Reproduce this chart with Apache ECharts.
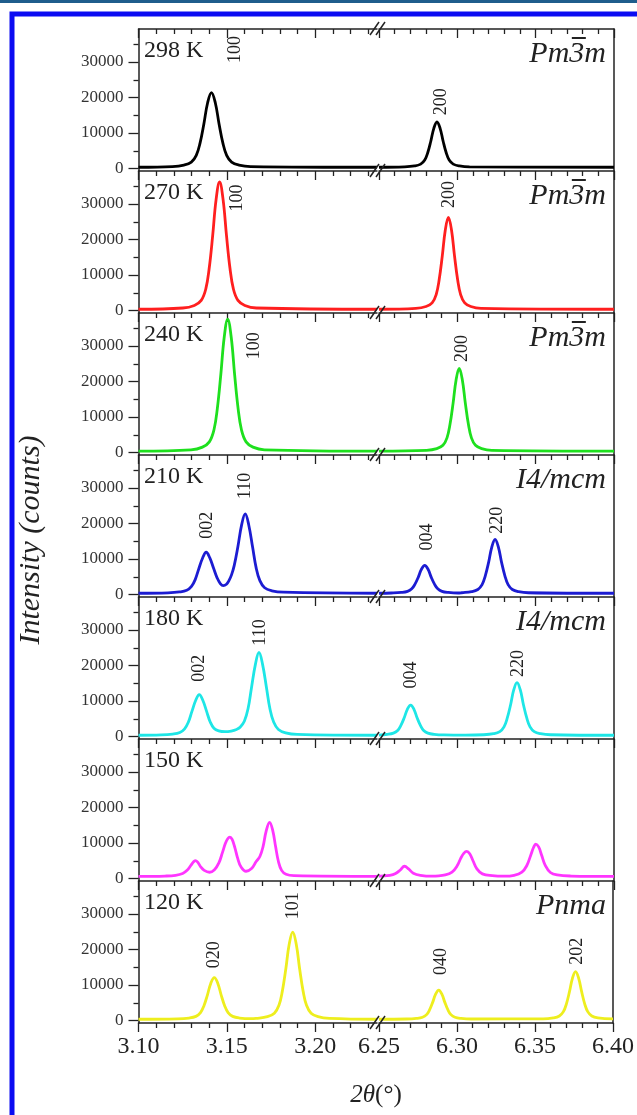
<!DOCTYPE html>
<html>
<head>
<meta charset="utf-8">
<script src="https://cdn.jsdelivr.net/npm/echarts@6/dist/echarts.min.js"></script>
</head>
<body style="margin:0;background:#fff;">
<div id="main" style="width:637px;height:1115px;"></div>
<script type="text/javascript">
// panel texts (top to bottom)
var temps = ['298 K', '270 K', '240 K', '210 K', '180 K', '150 K', '120 K'];
var phases = ['Pm3m', 'Pm3m', 'Pm3m', 'I4/mcm', 'I4/mcm', '', 'Pnma'];
var colors = ['#000000', '#ff1f1f', '#1ee01e', '#1c1cd2', '#1ee6e6', '#ff35ff', '#eeee1e'];

// axis ticks
var xMajorL = [3.10, 3.15, 3.20];
var xMinorL = [3.11, 3.12, 3.13, 3.14, 3.16, 3.17, 3.18, 3.19, 3.21, 3.22, 3.23];
var xMajorR = [6.25, 6.30, 6.35, 6.40];
var xMinorR = [6.26, 6.27, 6.28, 6.29, 6.31, 6.32, 6.33, 6.34, 6.36, 6.37, 6.38, 6.39];
var yMajor = [0, 10000, 20000, 30000];
var yMinor = [5000, 15000, 25000, 35000];

// 2theta / counts (left part 3.10-3.235, right part 6.25-6.40)
var p298L = [[3.100,350],[3.1192,560],[3.1257,980],[3.1299,1820],[3.1327,3720],[3.1348,7090],[3.1370,12560],[3.1391,18450],[3.1413,21400],[3.1435,18450],[3.1456,12560],[3.1478,7090],[3.1499,3720],[3.1527,1820],[3.1569,980],[3.1634,560],[3.2350,350]];
var p298R = [[6.250,350],[6.2662,480],[6.2727,730],[6.2766,1240],[6.2792,2390],[6.2811,4430],[6.2831,7750],[6.2850,11320],[6.2870,13100],[6.2890,11320],[6.2909,7750],[6.2929,4430],[6.2948,2390],[6.2974,1240],[6.3013,730],[6.3078,480],[6.4000,350]];

var p270L = [[3.100,350],[3.1251,710],[3.1316,1430],[3.1355,2860],[3.1381,6090],[3.1400,11820],[3.1420,21140],[3.1439,31180],[3.1459,36200],[3.1479,31180],[3.1498,21140],[3.1518,11820],[3.1537,6090],[3.1563,2860],[3.1602,1430],[3.1667,710],[3.2350,350]];
var p270R = [[6.250,350],[6.2735,610],[6.2800,1130],[6.2839,2160],[6.2865,4490],[6.2884,8640],[6.2904,15370],[6.2923,22620],[6.2943,26250],[6.2963,22620],[6.2982,15370],[6.3002,8640],[6.3021,4490],[6.3047,2160],[6.3086,1130],[6.3151,610],[6.4000,350]];

var p240L = [[3.100,400],[3.1297,770],[3.1362,1520],[3.1401,3000],[3.1427,6350],[3.1446,12300],[3.1466,21980],[3.1485,32390],[3.1505,37600],[3.1525,32390],[3.1544,21980],[3.1564,12300],[3.1583,6350],[3.1609,3000],[3.1648,1520],[3.1713,770],[3.2350,400]];
var p240R = [[6.250,400],[6.2804,630],[6.2869,1100],[6.2908,2030],[6.2934,4130],[6.2953,7860],[6.2973,13910],[6.2992,20440],[6.3012,23700],[6.3032,20440],[6.3051,13910],[6.3071,7860],[6.3090,4130],[6.3116,2030],[6.3155,1100],[6.3220,630],[6.4000,400]];

var p210L = [[3.100,350],[3.1167,470],[3.1232,720],[3.1273,1200],[3.1300,2300],[3.1321,4200],[3.1341,7200],[3.1363,10300],[3.1383,11900],[3.1403,10400],[3.1425,7400],[3.1445,4700],[3.1463,3100],[3.1480,2500],[3.1498,2900],[3.1512,3900],[3.1527,5600],[3.1542,8200],[3.1562,13300],[3.1584,19700],[3.1604,22700],[3.1624,19600],[3.1646,13300],[3.1666,7500],[3.1687,3900],[3.1714,1900],[3.1755,1050],[3.1820,650],[3.2350,350]];
var p210R = [[6.250,350],[6.2579,430],[6.2642,590],[6.2682,900],[6.2709,1610],[6.2729,2870],[6.2751,4910],[6.2771,7120],[6.2792,8220],[6.2813,7120],[6.2833,4910],[6.2855,2870],[6.2875,1610],[6.2902,900],[6.2942,590],[6.3005,430],[6.3028,500],[6.3091,800],[6.3131,1410],[6.3158,2770],[6.3178,5200],[6.3200,9140],[6.3220,13380],[6.3241,15500],[6.3262,13380],[6.3282,9140],[6.3304,5200],[6.3324,2770],[6.3351,1410],[6.3391,800],[6.3454,500],[6.4000,350]];

var p180L = [[3.100,350],[3.1128,460],[3.1193,700],[3.1234,1150],[3.1261,2180],[3.1282,4010],[3.1302,7000],[3.1324,10200],[3.1344,11800],[3.1364,10200],[3.1386,7000],[3.1406,4100],[3.1427,2350],[3.1454,1600],[3.1490,1350],[3.1525,1550],[3.1555,2000],[3.1575,2600],[3.1599,4300],[3.1620,7800],[3.1640,13900],[3.1662,20400],[3.1682,23700],[3.1702,20400],[3.1724,13900],[3.1744,7800],[3.1765,4100],[3.1792,2000],[3.1833,1050],[3.1898,600],[3.2350,350]];
var p180R = [[6.250,420],[6.2552,610],[6.2592,950],[6.2619,1710],[6.2639,3070],[6.2661,5280],[6.2681,7660],[6.2702,8850],[6.2723,7660],[6.2743,5280],[6.2765,3070],[6.2785,1710],[6.2812,950],[6.2852,610],[6.2915,435],[6.3050,380],[6.3168,500],[6.3231,800],[6.3271,1390],[6.3298,2720],[6.3318,5100],[6.3340,8960],[6.3360,13110],[6.3381,15190],[6.3402,13110],[6.3422,8960],[6.3444,5100],[6.3464,2720],[6.3491,1390],[6.3531,800],[6.3594,500],[6.4000,350]];

var p150L = [[3.100,600],[3.1150,700],[3.1210,900],[3.1250,1400],[3.1275,2300],[3.1295,3600],[3.1310,4600],[3.1321,5030],[3.1335,4600],[3.1352,3300],[3.1372,2300],[3.1402,1770],[3.1430,2500],[3.1455,4400],[3.1475,7300],[3.1492,9900],[3.1505,11200],[3.1517,11650],[3.1530,11000],[3.1545,8800],[3.1562,5600],[3.1580,3300],[3.1609,2050],[3.1640,2800],[3.1665,4700],[3.1687,6200],[3.1705,9000],[3.1722,13200],[3.1742,15840],[3.1760,13500],[3.1776,9000],[3.1792,4800],[3.1810,2300],[3.1835,1200],[3.1880,800],[3.2350,600]];
var p150R = [[6.250,640],[6.2508,680],[6.2569,900],[6.2606,1400],[6.2636,2400],[6.2663,3450],[6.2689,2700],[6.2719,1500],[6.2764,900],[6.2840,650],[6.2860,700],[6.2923,1000],[6.2966,1800],[6.2998,3500],[6.3023,5800],[6.3041,7100],[6.3060,7640],[6.3079,7000],[6.3100,5000],[6.3125,2700],[6.3160,1300],[6.3223,800],[6.3300,650],[6.3362,900],[6.3412,1800],[6.3443,3600],[6.3468,6500],[6.3487,8800],[6.3501,9690],[6.3519,8900],[6.3537,6700],[6.3562,3600],[6.3594,1700],[6.3637,1000],[6.3725,700],[6.4000,600]];

var p120L = [[3.100,350],[3.1221,470],[3.1286,700],[3.1325,1170],[3.1351,2230],[3.1370,4110],[3.1390,7170],[3.1409,10450],[3.1429,12100],[3.1449,10450],[3.1468,7170],[3.1488,4110],[3.1507,2230],[3.1533,1170],[3.1572,700],[3.1637,520],[3.1665,600],[3.1730,1090],[3.1769,2070],[3.1795,4280],[3.1814,8210],[3.1834,14590],[3.1853,21460],[3.1873,24900],[3.1893,21460],[3.1912,14590],[3.1932,8210],[3.1951,4280],[3.1977,2070],[3.2016,1090],[3.2081,600],[3.2350,350]];
var p120R = [[6.250,350],[6.2675,430],[6.2740,600],[6.2779,920],[6.2805,1660],[6.2824,2980],[6.2844,5110],[6.2863,7410],[6.2883,8560],[6.2903,7410],[6.2922,5110],[6.2942,2980],[6.2961,1660],[6.2987,920],[6.3026,600],[6.3091,430],[6.3552,480],[6.3617,750],[6.3656,1290],[6.3682,2500],[6.3701,4640],[6.3721,8130],[6.3740,11890],[6.3760,13770],[6.3780,11890],[6.3799,8130],[6.3819,4640],[6.3838,2500],[6.3864,1290],[6.3903,750],[6.4000,450]];

// reflection labels: [hkl, 2theta, counts where the vertical text starts]
var hkl298 = [['100', 3.1545, 29700], ['200', 6.2896, 15000]];
var hkl270 = [['100', 3.1561, 27900], ['200', 6.2951, 28900]];
var hkl240 = [['100', 3.1658, 26300], ['200', 6.3034, 25500]];
var hkl210 = [['002', 3.1389, 15700], ['110', 3.1607, 26900], ['004', 6.2805, 12400], ['220', 6.3254, 17100]];
var hkl180 = [['002', 3.1343, 15400], ['110', 3.1688, 25600], ['004', 6.2707, 13500], ['220', 6.3392, 16800]];
var hkl150 = [];
var hkl120 = [['020', 3.1428, 14750], ['101', 3.1876, 28500], ['040', 6.2896, 12800], ['202', 6.3771, 15700]];

var leftData = [p298L, p270L, p240L, p210L, p180L, p150L, p120L];
var rightData = [p298R, p270R, p240R, p210R, p180R, p150R, p120R];
var hklData = [hkl298, hkl270, hkl240, hkl210, hkl180, hkl150, hkl120];

// layout
var serif = '"Liberation Serif", "Times New Roman", serif';
var ink = '#222';
var PANEL_TOP = 29, PANEL_H = 142;
var X0 = 138.5, XB = 377, XR0 = 379, X1 = 614;
var Y_MIN = -700, Y_MAX = 39300;

var myChart = echarts.init(document.getElementById('main'));

var grid = [], xAxis = [], yAxis = [], series = [];
var pairs = [];

function makeX(gi, min, max, ticks, len, pos, inside, labels, line) {
    xAxis.push({
        type: 'value', gridIndex: gi, min: min, max: max, position: pos,
        axisLine: {show: line, onZero: false, lineStyle: {color: ink, width: 1.5}},
        axisTick: {show: true, inside: inside, length: len, customValues: ticks, lineStyle: {color: ink, width: 1.3}},
        axisLabel: labels ? {
            show: true, customValues: ticks, margin: 12,
            formatter: function (v) { return v.toFixed(2); },
            fontFamily: serif, fontSize: 24, color: ink
        } : {show: false},
        splitLine: {show: false}
    });
    return xAxis.length - 1;
}

function makeY(gi, pos, ticks, len, labels, line) {
    yAxis.push({
        type: 'value', gridIndex: gi, min: Y_MIN, max: Y_MAX, position: pos,
        axisLine: {show: line, onZero: false, lineStyle: {color: ink, width: 1.5}},
        axisTick: ticks ? {show: true, length: len, customValues: ticks, lineStyle: {color: ink, width: 1.3}} : {show: false},
        axisLabel: labels ? {
            show: true, customValues: ticks, margin: 15,
            formatter: function (v) { return String(v); },
            fontFamily: serif, fontSize: 17, color: '#333'
        } : {show: false},
        splitLine: {show: false}
    });
    return yAxis.length - 1;
}

for (var i = 0; i < 7; i++) {
    var panelTop = PANEL_TOP + i * PANEL_H;
    var last = i === 6;
    grid.push({left: X0, top: panelTop, width: XB - X0, height: PANEL_H});
    grid.push({left: XR0, top: panelTop, width: X1 - XR0, height: PANEL_H});
    var gL = 2 * i, gR = 2 * i + 1;

    var xl = makeX(gL, 3.10, 3.235, xMajorL, 9, 'bottom', false, last, true);
    makeX(gL, 3.10, 3.235, xMinorL, 5, 'bottom', false, false, false);
    var xr = makeX(gR, 6.25, 6.40, xMajorR, 9, 'bottom', false, last, true);
    makeX(gR, 6.25, 6.40, xMinorR, 5, 'bottom', false, false, false);
    if (i === 0) {
        makeX(gL, 3.10, 3.235, xMajorL, 9, 'top', true, false, true);
        makeX(gL, 3.10, 3.235, xMinorL, 5, 'top', true, false, false);
        makeX(gR, 6.25, 6.40, xMajorR, 9, 'top', true, false, true);
        makeX(gR, 6.25, 6.40, xMinorR, 5, 'top', true, false, false);
    }
    var yl = makeY(gL, 'left', yMajor, 10, true, true);
    makeY(gL, 'left', yMinor, 5, false, false);
    var yr = makeY(gR, 'right', null, 0, false, true);
    pairs.push({L: [xl, yl], R: [xr, yr]});

    [[leftData[i], xl, yl], [rightData[i], xr, yr]].forEach(function (s) {
        series.push({
            type: 'line', xAxisIndex: s[1], yAxisIndex: s[2], data: s[0],
            symbol: 'none', showSymbol: false, smooth: 0.4, silent: true,
            lineStyle: {color: colors[i], width: 2.8}
        });
    });
}

myChart.setOption({
    backgroundColor: '#ffffff',
    animation: false,
    grid: grid,
    xAxis: xAxis,
    yAxis: yAxis,
    series: series
});

// texts and decorations
var g = [];
g.push({type: 'rect', shape: {x: 0, y: 0, width: 637, height: 3}, style: {fill: '#1f5d8c'}, silent: true});
g.push({type: 'rect', shape: {x: 12, y: 14, width: 700, height: 1200}, style: {fill: 'none', stroke: '#0b0bf2', lineWidth: 5}, silent: true});

var ctx = document.createElement('canvas').getContext('2d');
var SG_SIZE = 30;
ctx.font = 'italic ' + SG_SIZE + 'px "Liberation Serif"';
var wm = ctx.measureText('m').width, w3 = ctx.measureText('3').width;
var SG_RIGHT = 606;

for (var k = 0; k < 7; k++) {
    var ptop = PANEL_TOP + k * PANEL_H;
    g.push({type: 'text', x: 144, y: ptop + 22, silent: true,
        style: {text: temps[k], fontFamily: serif, fontSize: 24, fill: ink, align: 'left', verticalAlign: 'middle'}});
    if (phases[k]) {
        var sy = ptop + 25;
        g.push({type: 'text', x: SG_RIGHT, y: sy, silent: true,
            style: {text: phases[k], fontFamily: serif, fontStyle: 'italic', fontSize: SG_SIZE, fill: ink, align: 'right', verticalAlign: 'middle'}});
        if (phases[k] === 'Pm3m') {
            var bx1 = SG_RIGHT - wm - w3 + 2.5, bx2 = SG_RIGHT - wm + 1.5, by = sy - 16;
            g.push({type: 'line', shape: {x1: bx1, y1: by, x2: bx2, y2: by}, style: {stroke: ink, lineWidth: 2}, silent: true});
        }
    }
    hklData[k].forEach(function (h) {
        var pr = h[1] < 5 ? pairs[k].L : pairs[k].R;
        var pt = myChart.convertToPixel({xAxisIndex: pr[0], yAxisIndex: pr[1]}, [h[1], h[2]]);
        g.push({type: 'text', x: pt[0], y: pt[1], rotation: Math.PI / 2, silent: true,
            style: {text: h[0], fontFamily: serif, fontSize: 18, fill: ink, align: 'left', verticalAlign: 'middle'}});
    });
}

// axis break marks
var bxc = (XB + XR0) / 2;
for (var b = 0; b <= 7; b++) {
    var yy = PANEL_TOP + b * PANEL_H;
    [-3, 3].forEach(function (s) {
        g.push({type: 'line', shape: {x1: bxc + s - 5, y1: yy + 6, x2: bxc + s + 4, y2: yy - 7},
            style: {stroke: ink, lineWidth: 1.5}, silent: true, z: 10});
    });
}

g.push({type: 'text', x: 31, y: 540, rotation: Math.PI / 2, silent: true,
    style: {text: 'Intensity (counts)', fontFamily: serif, fontStyle: 'italic', fontSize: 30, fill: ink, align: 'center', verticalAlign: 'middle'}});
g.push({type: 'text', x: 376, y: 1095, silent: true,
    style: {
        text: '{a|2θ}{b|(°)}', align: 'center', verticalAlign: 'middle',
        rich: {
            a: {fontFamily: serif, fontStyle: 'italic', fontSize: 25, fill: ink, color: ink},
            b: {fontFamily: serif, fontSize: 25, fill: ink, color: ink}
        }
    }});

myChart.setOption({graphic: g});
</script>
</body>
</html>
